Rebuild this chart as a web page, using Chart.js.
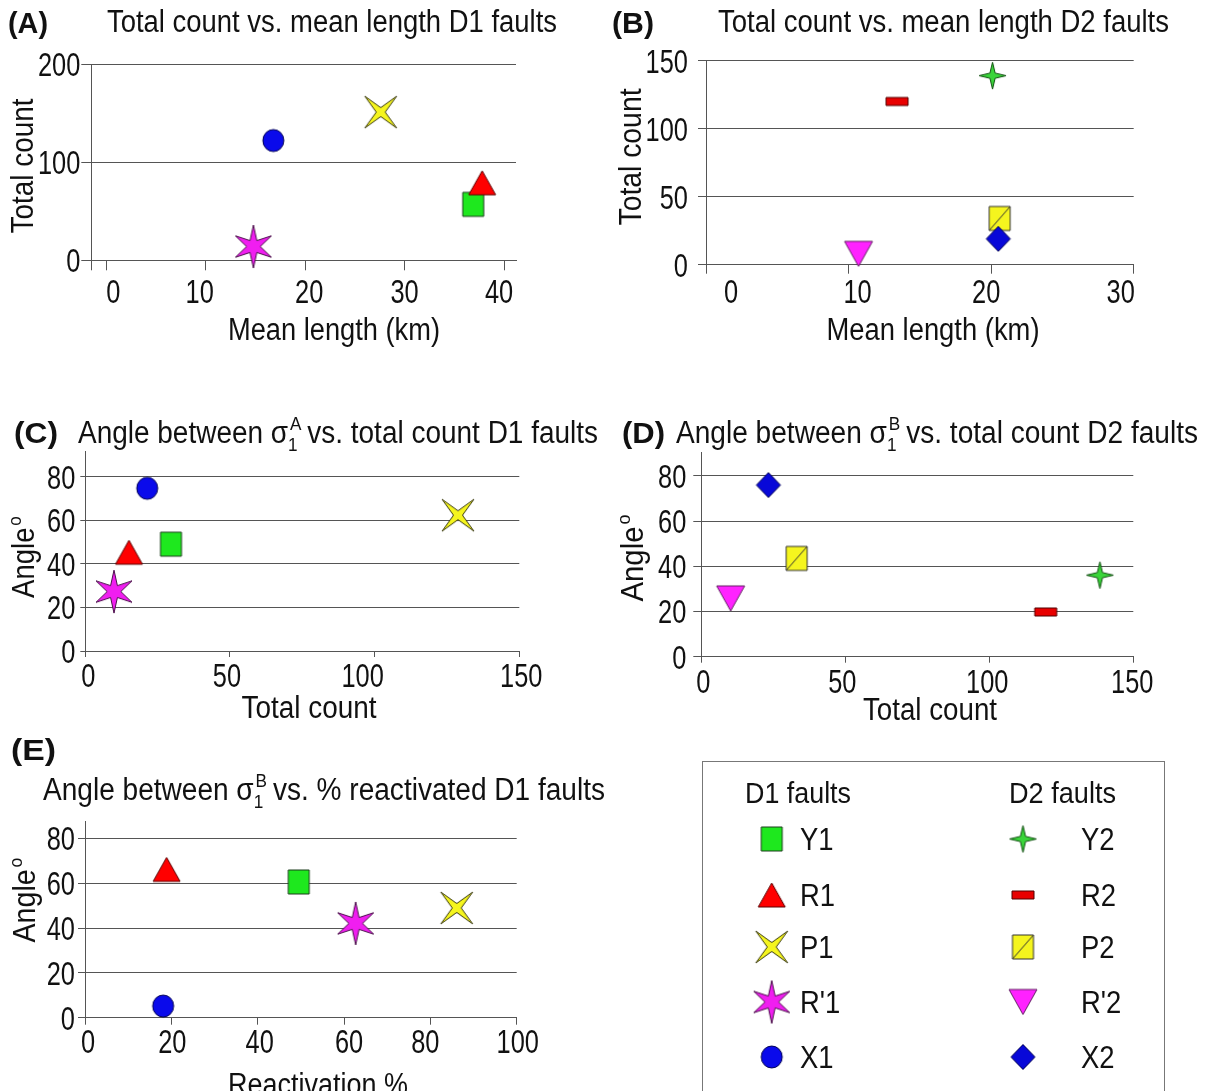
<!DOCTYPE html>
<html>
<head>
<meta charset="utf-8">
<script src="https://cdn.jsdelivr.net/npm/chart.js@4/dist/chart.umd.min.js"></script>
<style>
  body { margin: 0; background: #fff; width: 1211px; height: 1091px; overflow: hidden; position: relative; }
  canvas { position: absolute; }
</style>
</head>
<body>
<canvas id="chartA"></canvas>
<canvas id="chartB"></canvas>
<canvas id="chartC"></canvas>
<canvas id="chartD"></canvas>
<canvas id="chartE"></canvas>
<canvas id="legend"></canvas>
<script>
// fault sets (same order everywhere)
const d1Faults = ['Y1', 'R1', 'P1', "R'1", 'X1'];
const d2Faults = ['Y2', 'R2', 'P2', "R'2", 'X2'];

// (A) total count vs mean length, D1 faults
const aMeanLength = [36.9, 37.8, 27.6, 14.8, 16.8];
const aTotalCount = [57, 79, 151, 14, 122];
// (B) total count vs mean length, D2 faults
const bMeanLength = [20.1, 13.4, 20.6, 10.7, 20.5];
const bTotalCount = [139, 120, 34, 8, 19];
// (C) angle to sigma1 A vs total count, D1 faults
const cTotalCount = [29.6, 15.1, 128.8, 9.9, 21.4];
const cAngle = [49.1, 45.4, 62.4, 27.3, 74.8];
// (D) angle to sigma1 B vs total count, D2 faults
const dTotalCount = [138.4, 119.6, 33.1, 10.2, 23.3];
const dAngle = [36.1, 19.8, 43.5, 25.8, 76.0];
// (E) angle to sigma1 B vs % reactivated, D1 faults
const eReactivation = [49.5, 18.9, 86.1, 62.7, 18.1];
const eAngle = [60.6, 66.2, 49.0, 42.1, 5.2];

// tick labels
const lengthTicksA = [0, 10, 20, 30, 40];
const countTicksA = [0, 100, 200];
const lengthTicksB = [0, 10, 20, 30];
const countTicksB = [0, 50, 100, 150];
const countTicks = [0, 50, 100, 150];
const angleTicks = [0, 20, 40, 60, 80];
const reactivationTicks = [0, 20, 40, 60, 80, 100];

const FONT_FAMILY = "'Liberation Sans Narrow', 'Arial Narrow', 'Liberation Sans', Arial, sans-serif";
const INK = '#111';
const LINE = '#555';
const TICK_SIZE = 33;
const TICK_SQUEEZE = 0.77;

// marker look per fault
const markerStyles = {
  'Y1':  { shape: 'square',    w: 21, h: 24, fill: '#1ee81e', stroke: '#1d3d1d' },
  'R1':  { shape: 'triangle',  w: 27, h: 24, fill: '#ff0000', stroke: '#5a0000' },
  'P1':  { shape: 'star4x',    w: 32, h: 32, fill: '#f5f51e', stroke: '#3a3a10' },
  "R'1": { shape: 'star6',     w: 36, h: 43, fill: '#f01ef0', stroke: '#4a104a' },
  'X1':  { shape: 'ellipse',   w: 21, h: 22, fill: '#0a0aeb', stroke: '#000050' },
  'Y2':  { shape: 'star4plus', w: 27, h: 27, fill: '#3ad43a', stroke: '#0d4d0d' },
  'R2':  { shape: 'square',    w: 22, h: 8,  fill: '#e80000', stroke: '#500000' },
  'P2':  { shape: 'splitSq',   w: 21, h: 24, fill: '#f5f51e', stroke: '#333' },
  "R'2": { shape: 'triDown',   w: 28, h: 25, fill: '#ff22ff', stroke: '#602060' },
  'X2':  { shape: 'diamond',   w: 24, h: 25, fill: '#0808d8', stroke: '#000050' }
};

function makeMarker(name) {
  const s = markerStyles[name];
  const c = document.createElement('canvas');
  c.width = s.w + 4; c.height = s.h + 4;
  const g = c.getContext('2d');
  g.translate(c.width / 2, c.height / 2);
  const w = s.w / 2, h = s.h / 2;
  g.beginPath();
  if (s.shape === 'square' || s.shape === 'splitSq') {
    g.rect(-w, -h, 2 * w, 2 * h);
  } else if (s.shape === 'triangle') {
    g.moveTo(0, -h); g.lineTo(w, h); g.lineTo(-w, h); g.closePath();
  } else if (s.shape === 'triDown') {
    g.moveTo(-w, -h); g.lineTo(w, -h); g.lineTo(0, h); g.closePath();
  } else if (s.shape === 'ellipse') {
    g.ellipse(0, 0, w, h, 0, 0, Math.PI * 2);
  } else if (s.shape === 'diamond') {
    g.moveTo(0, -h); g.lineTo(w, 0); g.lineTo(0, h); g.lineTo(-w, 0); g.closePath();
  } else if (s.shape === 'star4x') {
    const ri = 0.28 * w;
    g.moveTo(-w, -h); g.lineTo(0, -ri); g.lineTo(w, -h); g.lineTo(ri, 0);
    g.lineTo(w, h); g.lineTo(0, ri); g.lineTo(-w, h); g.lineTo(-ri, 0); g.closePath();
  } else if (s.shape === 'star4plus') {
    const ri = 2.6;
    g.moveTo(0, -h); g.lineTo(ri, -ri); g.lineTo(w, 0); g.lineTo(ri, ri);
    g.lineTo(0, h); g.lineTo(-ri, ri); g.lineTo(-w, 0); g.lineTo(-ri, -ri); g.closePath();
  } else if (s.shape === 'star6') {
    const tips = [[0, -h], [w, -0.5 * h], [w, 0.5 * h], [0, h], [-w, 0.5 * h], [-w, -0.5 * h]];
    const ri = 0.38 * w;
    tips.forEach((t, i) => {
      const a = (-60 + 60 * i) * Math.PI / 180;
      if (i === 0) g.moveTo(t[0], t[1]); else g.lineTo(t[0], t[1]);
      g.lineTo(ri * Math.cos(a), ri * Math.sin(a));
    });
    g.closePath();
  }
  g.fillStyle = s.fill; g.fill();
  g.lineWidth = 1; g.strokeStyle = s.stroke; g.stroke();
  if (s.shape === 'splitSq') {
    g.beginPath(); g.moveTo(-w, h); g.lineTo(w, -h); g.stroke();
  }
  return c;
}

function fontOf(size, bold) {
  return (bold ? 'bold ' : '') + size + 'px ' + FONT_FAMILY;
}

// text with optional sub/superscripts, squeezed to a width (w) or by a factor (sx)
function drawRich(ctx, item) {
  const size = item.size || 31;
  const small = Math.round(size * 0.62);
  let cursor = 0, natural = 0;
  const placed = item.parts.map(p => {
    const sz = (p.sub || p.sup) ? small : size;
    ctx.font = fontOf(sz, p.bold);
    const w = ctx.measureText(p.t).width;
    const at = cursor;
    if (!p.stack) cursor += w;
    natural = Math.max(natural, at + w);
    return { p, sz, at };
  });
  const sx = item.w ? item.w / natural : (item.sx || 1);
  ctx.save();
  ctx.translate(item.x, item.y);
  if (item.rotate) ctx.rotate(-Math.PI / 2);
  ctx.scale(sx, 1);
  const x0 = item.align === 'center' ? -natural / 2 : (item.align === 'right' ? -natural : 0);
  ctx.fillStyle = INK;
  ctx.textAlign = 'left';
  ctx.textBaseline = 'alphabetic';
  placed.forEach(({ p, sz, at }) => {
    ctx.font = fontOf(sz, p.bold);
    const dy = p.sub ? size * 0.25 : (p.sup ? -size * 0.42 : 0);
    ctx.fillText(p.t, x0 + at + (p.sup ? 2 : 0), dy);
  });
  ctx.restore();
}

// titles and condensed tick labels, placed from the chart's own scales
function textLayer(p) {
  return {
    id: 'textLayer',
    afterDraw(chart) {
      const ctx = chart.ctx;
      const xs = chart.scales.x, ys = chart.scales.y;
      xs.ticks.forEach(t => {
        const k = p.xTicks.indexOf(t.value);
        if (k < 0) return;
        drawRich(ctx, {
          parts: [{ t: String(t.value) }], size: TICK_SIZE, sx: TICK_SQUEEZE, align: 'center',
          x: xs.getPixelForValue(t.value) + (p.xLabelShift ? p.xLabelShift[k] : 0),
          y: xs.top + p.xLabelDrop
        });
      });
      ys.ticks.forEach(t => {
        if (p.yTicks.indexOf(t.value) < 0) return;
        drawRich(ctx, {
          parts: [{ t: String(t.value) }], size: TICK_SIZE, sx: TICK_SQUEEZE, align: 'right',
          x: ys.right - p.yLabelGap,
          y: ys.getPixelForValue(t.value) + TICK_SIZE * 0.36
        });
      });
      p.texts.forEach(it => drawRich(ctx, Object.assign({}, it, { x: it.x - p.box.left, y: it.y - p.box.top })));
    }
  };
}

function placeCanvas(el, box) {
  el.width = box.width; el.height = box.height;
  el.style.left = box.left + 'px'; el.style.top = box.top + 'px';
  el.style.width = box.width + 'px'; el.style.height = box.height + 'px';
}

const Y_W = 60, X_H = 60;

function axis(range, tickList, horizontal, tickLen) {
  return {
    type: 'linear',
    position: horizontal ? 'bottom' : 'left',
    min: range[0],
    max: range[1],
    afterBuildTicks: s => {
      const vals = tickList.includes(range[0]) ? tickList : [range[0]].concat(tickList);
      s.ticks = vals.map(v => ({ value: v }));
    },
    afterFit: s => { if (horizontal) s.height = X_H; else s.width = Y_W; },
    grid: { color: LINE, lineWidth: 1, tickLength: tickLen, drawOnChartArea: !horizontal, tickColor: LINE },
    border: { color: LINE, width: 1 },
    ticks: { display: false, autoSkip: false, maxRotation: 0 }
  };
}

function scatterPanel(id, p) {
  const el = document.getElementById(id);
  placeCanvas(el, p.box);
  const areaL = p.area[0] - p.box.left, areaT = p.area[1] - p.box.top;
  const areaR = p.area[2] - p.box.left, areaB = p.area[3] - p.box.top;
  return new Chart(el, {
    type: 'scatter',
    data: {
      datasets: p.names.map((n, i) => ({
        label: n,
        data: [{ x: p.xs[i], y: p.ys[i] }],
        pointStyle: makeMarker(n),
        pointRadius: 10,
        pointHoverRadius: 10,
        order: -i,
        clip: false
      }))
    },
    options: {
      responsive: false,
      animation: false,
      events: [],
      layout: {
        padding: {
          left: areaL - Y_W,
          top: areaT,
          right: p.box.width - areaR,
          bottom: p.box.height - areaB - X_H
        }
      },
      plugins: { legend: { display: false }, tooltip: { enabled: false } },
      scales: {
        x: axis(p.xRange, p.xTicks, true, p.xTickLen),
        y: axis(p.yRange, p.yTicks, false, p.yTickLen)
      }
    },
    plugins: [textLayer(p)]
  });
}

const sigmaTitle = (sup, rest) => [
  { t: 'Angle between σ' }, { t: '1', sub: true, stack: true }, { t: sup, sup: true }, { t: rest }
];
const angleTitle = [{ t: 'Angle' }, { t: 'o', sup: true }];

scatterPanel('chartA', {
  box: { left: 0, top: 0, width: 605, height: 365 },
  area: [91.3, 64, 516, 260.3],
  names: d1Faults, xs: aMeanLength, ys: aTotalCount,
  xRange: [-1.5, 41.2], xTicks: lengthTicksA,
  yRange: [0, 200], yTicks: countTicksA,
  xTickLen: 10, yTickLen: 10, xLabelDrop: 43, yLabelGap: 11, xLabelShift: [7, -6, 4, 0, -5],
  texts: [
    { parts: [{ t: '(A)', bold: true }], x: 8, y: 33, w: 40, size: 29 },
    { parts: [{ t: 'Total count vs. mean length D1 faults' }], x: 107, y: 32, w: 450 },
    { parts: [{ t: 'Total count' }], x: 33, y: 166, w: 135, align: 'center', rotate: true },
    { parts: [{ t: 'Mean length (km)' }], x: 334, y: 340, w: 212, align: 'center' }
  ]
});

scatterPanel('chartB', {
  box: { left: 605, top: 0, width: 606, height: 365 },
  area: [706, 60.7, 1133.7, 264.7],
  names: d2Faults, xs: bMeanLength, ys: bTotalCount,
  xRange: [0, 30], xTicks: lengthTicksB,
  yRange: [0, 150], yTicks: countTicksB,
  xTickLen: 9, yTickLen: 8, xLabelDrop: 38.5, yLabelGap: 18, xLabelShift: [25, 9, -5, -13],
  texts: [
    { parts: [{ t: '(B)', bold: true }], x: 612, y: 33, w: 42, size: 29 },
    { parts: [{ t: 'Total count vs. mean length D2 faults' }], x: 718, y: 32, w: 451 },
    { parts: [{ t: 'Total count' }], x: 641, y: 157, w: 137, align: 'center', rotate: true },
    { parts: [{ t: 'Mean length (km)' }], x: 933, y: 340, w: 213, align: 'center' }
  ]
});

scatterPanel('chartC', {
  box: { left: 0, top: 395, width: 605, height: 340 },
  area: [85.3, 451.7, 519.3, 651],
  names: d1Faults, xs: cTotalCount, ys: cAngle,
  xRange: [0, 150], xTicks: countTicks,
  yRange: [0, 91.6], yTicks: angleTicks,
  xTickLen: 6, yTickLen: 5, xLabelDrop: 36, yLabelGap: 10, xLabelShift: [3, -3, -12, 2],
  texts: [
    { parts: [{ t: '(C)', bold: true }], x: 14, y: 443, w: 44, size: 29 },
    { parts: sigmaTitle('A', ' vs. total count D1 faults'), x: 78, y: 443, w: 520 },
    { parts: angleTitle, x: 34, y: 558, w: 80, align: 'center', rotate: true },
    { parts: [{ t: 'Total count' }], x: 309, y: 718, w: 135, align: 'center' }
  ]
});

scatterPanel('chartD', {
  box: { left: 605, top: 395, width: 606, height: 340 },
  area: [701.3, 452.7, 1133.3, 656.7],
  names: d2Faults, xs: dTotalCount, ys: dAngle,
  xRange: [0, 150], xTicks: countTicks,
  yRange: [0, 90.3], yTicks: angleTicks,
  xTickLen: 6, yTickLen: 8, xLabelDrop: 36.6, yLabelGap: 15, xLabelShift: [2, -3, -2, -1],
  texts: [
    { parts: [{ t: '(D)', bold: true }], x: 622, y: 443, w: 43, size: 29 },
    { parts: sigmaTitle('B', ' vs. total count D2 faults'), x: 676, y: 443, w: 522 },
    { parts: angleTitle, x: 643, y: 559, w: 85, align: 'center', rotate: true },
    { parts: [{ t: 'Total count' }], x: 930, y: 720, w: 134, align: 'center' }
  ]
});

scatterPanel('chartE', {
  box: { left: 0, top: 735, width: 620, height: 356 },
  area: [85, 821.7, 516.7, 1017.7],
  names: d1Faults, xs: eReactivation, ys: eAngle,
  xRange: [0, 100], xTicks: reactivationTicks,
  yRange: [0, 87.5], yTicks: angleTicks,
  xTickLen: 7, yTickLen: 7, xLabelDrop: 35.6, yLabelGap: 10, xLabelShift: [3, 1, 2, 5, -5, 1],
  texts: [
    { parts: [{ t: '(E)', bold: true }], x: 11, y: 760, w: 45, size: 29 },
    { parts: sigmaTitle('B', ' vs. % reactivated D1 faults'), x: 43, y: 800, w: 562 },
    { parts: angleTitle, x: 35, y: 901, w: 83, align: 'center', rotate: true },
    { parts: [{ t: 'Reactivation %' }], x: 318, y: 1095, w: 180, align: 'center' }
  ]
});

// legend box (D1 column / D2 column)
(function drawLegend() {
  const box = { left: 690, top: 750, width: 521, height: 341 };
  const el = document.getElementById('legend');
  placeCanvas(el, box);
  const ctx = el.getContext('2d');
  ctx.strokeStyle = '#777'; ctx.lineWidth = 1;
  ctx.strokeRect(702.5 - box.left, 761.5 - box.top, 462, 400);

  ctx.font = fontOf(31, false);
  const squeeze = 450 / ctx.measureText('Total count vs. mean length D1 faults').width;
  const rowY = [839, 895, 947, 1002, 1057];
  const cols = [
    { head: 'D1 faults', headX: 745, headW: 106, names: d1Faults, markX: 771.7, textX: 800 },
    { head: 'D2 faults', headX: 1009, headW: 107, names: d2Faults, markX: 1023, textX: 1081 }
  ];
  cols.forEach(col => {
    drawRich(ctx, { parts: [{ t: col.head }], x: col.headX - box.left, y: 803 - box.top, w: col.headW, size: 30 });
    col.names.forEach((n, i) => {
      const img = makeMarker(n);
      const mx = col.markX - box.left, my = rowY[i] - box.top;
      if (Chart.helpers && Chart.helpers.drawPoint) {
        Chart.helpers.drawPoint(ctx, { pointStyle: img, radius: 10, rotation: 0, borderWidth: 1 }, mx, my);
      } else {
        ctx.drawImage(img, mx - img.width / 2, my - img.height / 2);
      }
      drawRich(ctx, { parts: [{ t: n }], x: col.textX - box.left, y: rowY[i] + 11 - box.top, sx: squeeze });
    });
  });
})();
</script>
</body>
</html>
